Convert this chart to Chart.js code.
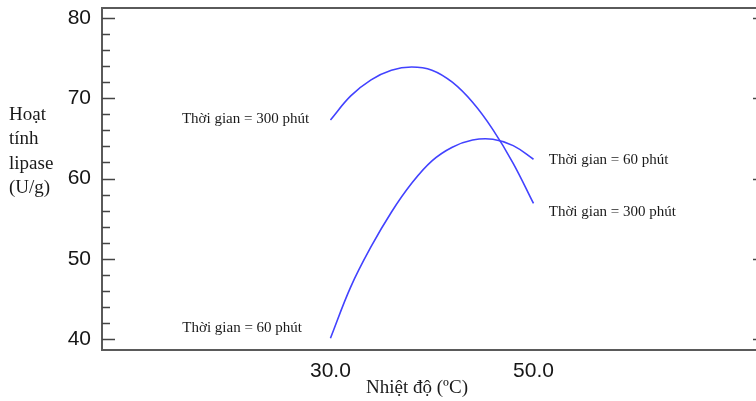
<!DOCTYPE html>
<html>
<head>
<meta charset="utf-8">
<script src="https://cdn.jsdelivr.net/npm/chart.js@4.4.1/dist/chart.umd.min.js"></script>
<style>
  html, body { margin: 0; padding: 0; background: #fff; overflow: hidden; }
  #wrap { width: 756px; height: 401px; overflow: hidden; }
</style>
</head>
<body>
<div id="wrap"><canvas id="lipaseChart" width="766" height="401"></canvas></div>
<script>
// temperature (°C) sampled along both curves
const temps = [30, 32, 34, 36, 38, 40, 42, 44, 46, 48, 50];
// activity at 60 min and 300 min (U/g)
const act60 = [40.1, 46.5, 51.5, 55.8, 59.4, 62.2, 63.9, 64.8, 64.9, 64.1, 62.4];
const act300 = [67.3, 70.3, 72.3, 73.5, 73.9, 73.5, 72.0, 69.5, 66.1, 61.9, 56.9];

const xTickValues = [30, 50];
const yTickValues = [40, 50, 60, 70, 80];
const yTitleLines = ['Hoạt', 'tính', 'lipase', '(U/g)'];
const xTitle = 'Nhiệt độ (ºC)';

// curve labels, positioned in data units
const curveLabels = [
  { text: 'Thời gian = 300 phút', x: 27.9, y: 67.4, align: 'right' },
  { text: 'Thời gian = 60 phút', x: 27.2, y: 41.4, align: 'right' },
  { text: 'Thời gian = 60 phút', x: 51.5, y: 62.3, align: 'left' },
  { text: 'Thời gian = 300 phút', x: 51.5, y: 55.8, align: 'left' }
];

const lineColor = 'rgb(66, 66, 255)';

const framePlugin = {
  id: 'frame',
  afterDraw(chart) {
    const ctx = chart.ctx;
    const { left, right, top, bottom } = chart.chartArea;
    const x = chart.scales.x;
    const y = chart.scales.y;

    ctx.save();
    // box
    ctx.strokeStyle = '#5a5a5a';
    ctx.lineWidth = 2;
    ctx.beginPath();
    ctx.moveTo(right, top);
    ctx.lineTo(left, top);
    ctx.lineTo(left, bottom);
    ctx.lineTo(right, bottom);
    ctx.stroke();

    // inward ticks on left and right, majors every 10, minors every 2
    ctx.strokeStyle = '#444';
    ctx.lineWidth = 1.5;
    for (let v = 40; v <= 80; v += 2) {
      const py = Math.round(y.getPixelForValue(v)) + 0.5;
      const len = v % 10 === 0 ? 13 : 8;
      ctx.beginPath();
      ctx.moveTo(left, py);
      ctx.lineTo(left + len, py);
      ctx.moveTo(right, py);
      ctx.lineTo(right - len, py);
      ctx.stroke();
    }

    // y title, stacked lines
    ctx.fillStyle = '#1a1a1a';
    ctx.font = '19px "Liberation Serif", "Times New Roman", serif';
    ctx.textAlign = 'left';
    ctx.textBaseline = 'middle';
    yTitleLines.forEach((t, i) => {
      ctx.fillText(t, 9, 115 + i * 24.3);
    });

    // x title
    ctx.textAlign = 'center';
    ctx.fillText(xTitle, 417, 388);

    // curve labels
    ctx.font = '15px "Liberation Serif", "Times New Roman", serif';
    curveLabels.forEach(l => {
      ctx.textAlign = l.align;
      ctx.fillText(l.text, x.getPixelForValue(l.x), y.getPixelForValue(l.y));
    });
    ctx.restore();
  }
};

const ctx = document.getElementById('lipaseChart').getContext('2d');
new Chart(ctx, {
  type: 'line',
  data: {
    datasets: [
      {
        label: 'Thời gian = 60 phút',
        data: temps.map((t, i) => ({ x: t, y: act60[i] })),
        borderColor: lineColor,
        borderWidth: 1.6,
        pointRadius: 0,
        tension: 0.4,
        fill: false
      },
      {
        label: 'Thời gian = 300 phút',
        data: temps.map((t, i) => ({ x: t, y: act300[i] })),
        borderColor: lineColor,
        borderWidth: 1.6,
        pointRadius: 0,
        tension: 0.4,
        fill: false
      }
    ]
  },
  options: {
    responsive: false,
    animation: false,
    layout: { padding: { left: 0, top: 8, right: 0, bottom: 0 } },
    plugins: {
      legend: { display: false },
      tooltip: { enabled: false }
    },
    scales: {
      x: {
        type: 'linear',
        min: 7.5,
        max: 72.9,
        afterBuildTicks: s => { s.ticks = xTickValues.map(v => ({ value: v })); },
        afterFit: s => { s.height = 51; s.paddingLeft = 0; s.paddingRight = 0; },
        ticks: {
          callback: v => Number(v).toFixed(1),
          font: { family: '"Liberation Sans", Arial, sans-serif', size: 21 },
          color: '#161616',
          padding: 9,
          maxRotation: 0,
          autoSkip: false
        },
        grid: { drawOnChartArea: false, drawTicks: false },
        border: { display: false }
      },
      y: {
        type: 'linear',
        min: 38.63,
        max: 81.25,
        afterBuildTicks: s => { s.ticks = yTickValues.map(v => ({ value: v })); },
        afterFit: s => { s.width = 102; s.paddingTop = 0; s.paddingBottom = 0; },
        ticks: {
          font: { family: '"Liberation Sans", Arial, sans-serif', size: 21 },
          color: '#161616',
          padding: 11
        },
        grid: { drawOnChartArea: false, drawTicks: false },
        border: { display: false }
      }
    }
  },
  plugins: [framePlugin]
});
</script>
</body>
</html>
